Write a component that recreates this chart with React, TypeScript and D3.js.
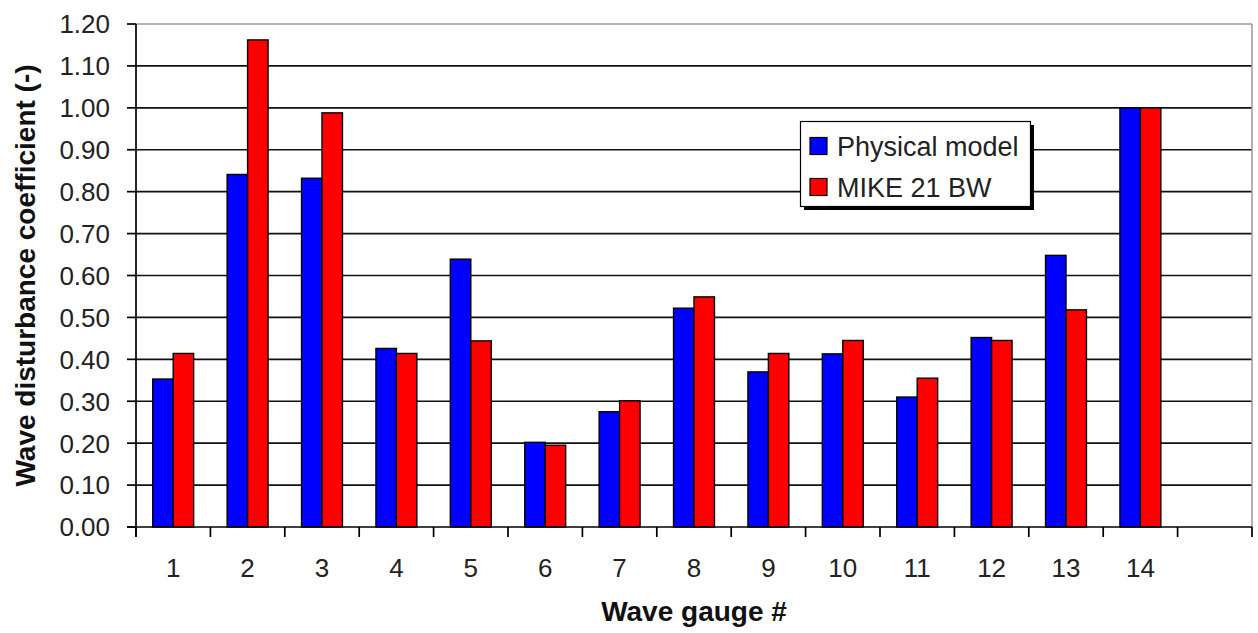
import React from "react";
import * as d3 from "d3";

const categories = ["1","2","3","4","5","6","7","8","9","10","11","12","13","14",""];
const physicalModel = [0.353,0.841,0.832,0.426,0.639,0.202,0.275,0.522,0.370,0.413,0.310,0.452,0.648,1.00];
const mike21bw = [0.414,1.162,0.988,0.414,0.444,0.195,0.301,0.549,0.414,0.445,0.355,0.445,0.518,1.00];
const yTicks = [0,0.1,0.2,0.3,0.4,0.5,0.6,0.7,0.8,0.9,1.0,1.1,1.2];
const seriesNames = ["Physical model","MIKE 21 BW"];
const seriesColors = ["#0000ff","#ff0000"];

const W = 1258, H = 633;
const left = 136, right = 1252, top = 24, bottom = 527;
const font = "'Liberation Sans', Arial, sans-serif";

export default function App() {
  const x = d3.scaleBand<string>().domain(categories).range([left, right]).padding(0);
  const y = d3.scaleLinear().domain([0, 1.2]).range([bottom, top]);
  const bw = x.bandwidth() * 0.275;
  const fmt = d3.format(".2f");
  const series = [physicalModel, mike21bw];
  const boundaries = d3.range(categories.length + 1).map(i => left + i * x.step());

  return (
    <svg width={W} height={H} style={{ position: "absolute", left: 0, top: 0, background: "#fff" }} fontFamily={font}>
      <rect x={0} y={0} width={W} height={H} fill="#fff" />
      {yTicks.filter(t => t > 0 && t < 1.2).map(t => (
        <line key={t} x1={left} x2={right} y1={y(t)} y2={y(t)} stroke="#111" strokeWidth={1.7} />
      ))}
      <line x1={left} x2={right} y1={y(1.2)} y2={y(1.2)} stroke="#9a9a9a" strokeWidth={1.5} />
      <line x1={right} x2={right} y1={top} y2={bottom} stroke="#9a9a9a" strokeWidth={1.5} />
      {series.map((vals, si) => vals.map((v, i) => {
        const cx = (x(categories[i]) as number) + x.bandwidth() / 2;
        const bx = cx - bw + si * bw;
        return (
          <rect key={si + "-" + i} x={bx} y={y(v)} width={bw} height={y(0) - y(v)}
            fill={seriesColors[si]} stroke="#000" strokeWidth={1.4} />
        );
      }))}
      <line x1={left} x2={left} y1={top} y2={bottom + 10} stroke="#000" strokeWidth={1.7} />
      <line x1={left - 9} x2={right} y1={bottom} y2={bottom} stroke="#000" strokeWidth={1.7} />
      {yTicks.map(t => (
        <g key={"yt" + t}>
          <line x1={left - 9} x2={left} y1={y(t)} y2={y(t)} stroke="#000" strokeWidth={1.7} />
          <text x={110} y={y(t)} dy="0.36em" textAnchor="end" fontSize={26} fill="#222">{fmt(t)}</text>
        </g>
      ))}
      {boundaries.map((bx, i) => (
        <line key={"xt" + i} x1={bx} x2={bx} y1={bottom} y2={bottom + 10} stroke="#000" strokeWidth={1.7} />
      ))}
      {categories.map(c => c ? (
        <text key={"xl" + c} x={(x(c) as number) + x.bandwidth() / 2} y={577} textAnchor="middle" fontSize={26} fill="#222">{c}</text>
      ) : null)}
      <text x={694} y={621} textAnchor="middle" fontSize={28} fontWeight="bold" fill="#111">Wave gauge #</text>
      <text transform={`translate(35, ${(top + bottom) / 2}) rotate(-90)`} textAnchor="middle" fontSize={28} fontWeight="bold" fill="#111">Wave disturbance coefficient (-)</text>
      <rect x={804} y={125} width={230} height={85} fill="#000" />
      <rect x={800.5} y={121.5} width={230} height={85} fill="#fff" stroke="#000" strokeWidth={1.2} />
      {seriesNames.map((n, i) => (
        <g key={n}>
          <rect x={810} y={137.5 + i * 41} width={17} height={17} fill={seriesColors[i]} stroke="#000" strokeWidth={1.2} />
          <text x={837} y={146 + i * 41} dy="0.36em" fontSize={27} fill="#222">{n}</text>
        </g>
      ))}
    </svg>
  );
}
